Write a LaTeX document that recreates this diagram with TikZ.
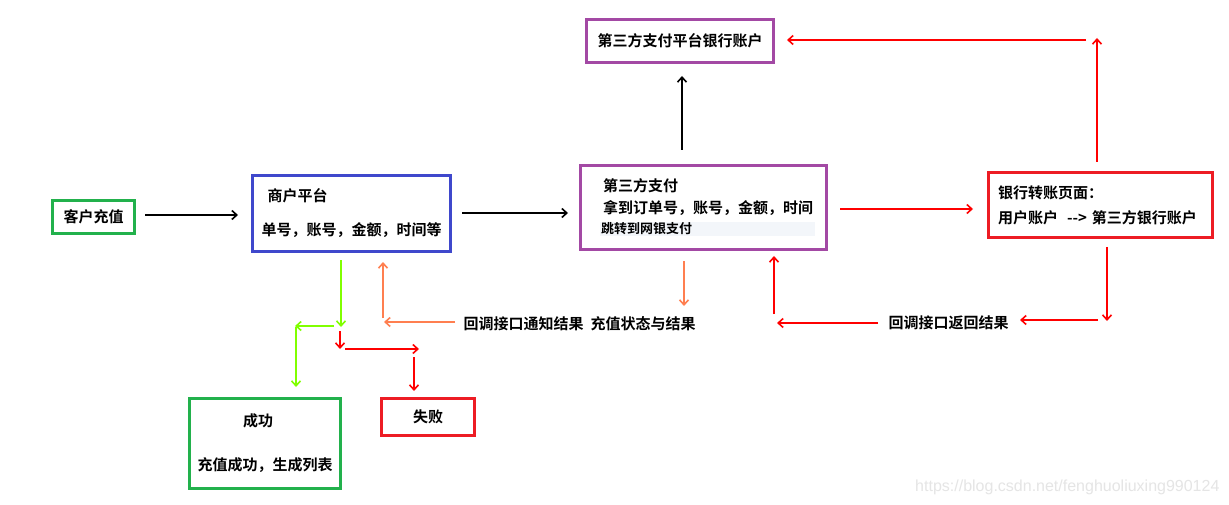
\documentclass[tikz,border=0pt]{standalone}
\usepackage{fontspec}
\usepackage{tikz}
\usetikzlibrary{arrows.meta}
\newfontfamily\cjk{Noto Sans CJK SC}[BoldFont={Noto Sans CJK SC Bold}]
\newfontfamily\wmfont{Liberation Sans}
\definecolor{boxgreen}{HTML}{22B14C}
\definecolor{boxblue}{HTML}{3F48CC}
\definecolor{boxpurple}{HTML}{A349A4}
\definecolor{boxred}{HTML}{ED1C24}
\definecolor{arrred}{HTML}{FF0000}
\definecolor{arrorange}{HTML}{FF7F50}
\definecolor{arrgreen}{HTML}{80FF00}
\definecolor{palebg}{HTML}{F3F6FA}

\begin{document}
\begin{tikzpicture}[x=1pt, y=-1pt,
		font=\cjk\bfseries\fontsize{15}{18}\selectfont,
		box/.style={draw, line width=3pt, inner sep=0pt},
		link/.style={line width=1.6pt, -{Straight Barb[length=5pt,width=9pt]}}]
			\fill [white] (0,0) rectangle (1229,505);
			\useasboundingbox (0,0) rectangle (1229,505);
			\node [box, draw=boxgreen, minimum width=82pt, minimum height=33pt] (cust) at (93.5,217) {客户充值};
			\node [box, draw=boxblue, minimum width=198pt, minimum height=76pt, align=left] (merch) at (351.5,213.5)
				{\hspace{6pt}商户平台\\[16pt]单号，账号，金额，时间等};
			\node [box, draw=boxpurple, minimum width=246pt, minimum height=84pt, align=left] (third) at (703.5,207.5)
				{\hspace{11pt}第三方支付\\[4pt]\hspace{11pt}拿到订单号，账号，金额，时间\\[2pt]\hspace{8pt}{\fboxsep=1pt\colorbox{palebg}{\makebox[213pt][l]{\fontsize{13}{15}\selectfont 跳转到网银支付}}}};
			\node [box, draw=boxpurple, minimum width=187pt, minimum height=43pt] (tacct) at (680,41) {第三方支付平台银行账户};
			\node [box, draw=boxred, minimum width=224pt, minimum height=65pt, align=left] (bank) at (1100.5,205)
				{\hspace{-6pt}银行转账页面：\\[7pt]\hspace{-6pt}用户账户\hspace{9pt}-{}-{}>\hspace{5pt}第三方银行账户};
			\node [box, draw=boxgreen, minimum width=151pt, minimum height=90pt, align=center] (succ) at (265,443.5)
				{\hspace{-14pt}成功\\[26pt]充值成功，生成列表};
			\node [box, draw=boxred, minimum width=93pt, minimum height=37pt] (fail) at (428,417) {失败};
			\node [anchor=west] (cbnote) at (460,324) {回调接口通知结果\hspace{7pt}充值状态与结果};
			\node [anchor=west] (cbres) at (885,323) {回调接口返回结果};
			\node [anchor=east, text=gray!20, font=\wmfont\fontsize{16}{18}\selectfont] (mark) at (1223,487) {https://blog.csdn.net/fenghuoliuxing990124};
			\coordinate (c1) at (145,215);   \coordinate (m1) at (238,215);
			\coordinate (m2) at (462,213);   \coordinate (t2) at (568,213);
			\coordinate (t3) at (682,150);   \coordinate (a3) at (682,76);
			\coordinate (t4) at (840,209);   \coordinate (b4) at (973,209);
			\coordinate (b5) at (1097,162);  \coordinate (r5) at (1097,38);
			\coordinate (r6) at (1086,40);   \coordinate (a6) at (787,40);
			\coordinate (b7) at (1107,247);  \coordinate (d7) at (1107,321);
			\coordinate (d8) at (1098,320);  \coordinate (l8) at (1020,320);
			\coordinate (l9) at (878,323);   \coordinate (e9) at (777,323);
			\coordinate (e10) at (774,314);  \coordinate (t10) at (774,256);
			\coordinate (t11) at (684,261);  \coordinate (n11) at (684,306);
			\coordinate (n12) at (455,322);  \coordinate (k12) at (384,322);
			\coordinate (k13) at (383,318);  \coordinate (m13) at (383,262);
			\coordinate (m14) at (341,260);  \coordinate (g14) at (341,327);
			\coordinate (g15) at (334,326);  \coordinate (h15) at (295,326);
			\coordinate (h16) at (296,327);  \coordinate (s16) at (296,387);
			\coordinate (f17) at (340,331);  \coordinate (j17) at (340,349);
			\coordinate (j18) at (345,349);  \coordinate (q18) at (419,349);
			\coordinate (q19) at (414,357);  \coordinate (x19) at (414,391);
			\draw [link] (c1) -- (m1);
			\draw [link] (m2) -- (t2);
			\draw [link] (t3) -- (a3);
			\draw [link, arrred] (t4) -- (b4);
			\draw [link, arrred] (b5) -- (r5);
			\draw [link, arrred] (r6) -- (a6);
			\draw [link, arrred] (b7) -- (d7);
			\draw [link, arrred] (d8) -- (l8);
			\draw [link, arrred] (l9) -- (e9);
			\draw [link, arrred] (e10) -- (t10);
			\draw [link, arrorange] (t11) -- (n11);
			\draw [link, arrorange] (n12) -- (k12);
			\draw [link, arrorange] (k13) -- (m13);
			\draw [link, arrgreen] (m14) -- (g14);
			\draw [link, arrgreen] (g15) -- (h15);
			\draw [link, arrgreen] (h16) -- (s16);
			\draw [link, arrred] (f17) -- (j17);
			\draw [link, arrred] (j18) -- (q18);
			\draw [link, arrred] (q19) -- (x19);
		\end{tikzpicture}
\end{document}
